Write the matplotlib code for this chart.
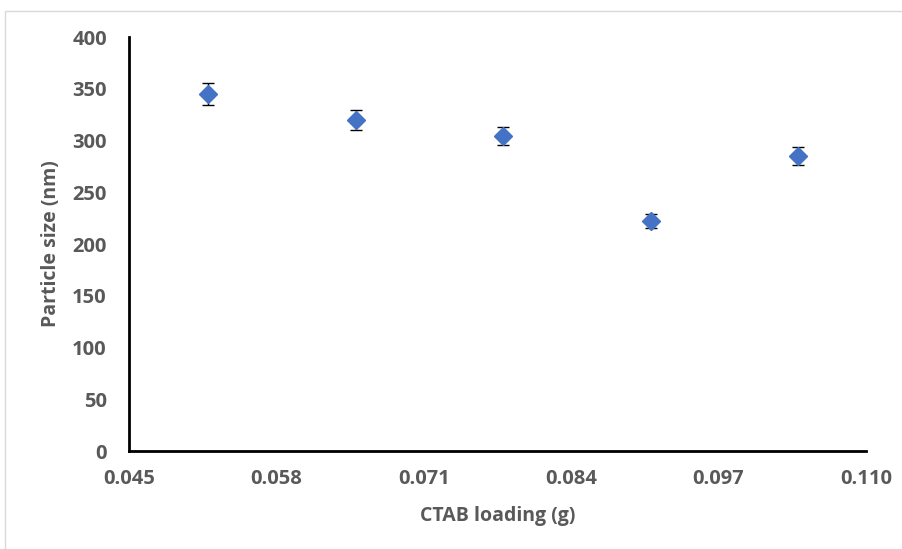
import matplotlib.pyplot as plt
from matplotlib.patches import Rectangle

# Données
ctab = [0.052, 0.065, 0.078, 0.091, 0.104]
taille = [345, 320, 304, 222, 285]
erreur = [10.5, 9.5, 8.7, 6.8, 8.7]
x_ticks = [0.045, 0.058, 0.071, 0.084, 0.097, 0.110]
y_ticks = [0, 50, 100, 150, 200, 250, 300, 350, 400]

gris = '#595959'
plt.rcParams['font.family'] = ['Open Sans', 'DejaVu Sans']

fig = plt.figure(figsize=(9.03, 5.49), dpi=100)
ax = fig.add_axes([0.1429, 0.1785, 0.816, 0.754])

# Cadre gris autour du graphe
fig.patches.append(Rectangle((5 / 903, -0.01), 1.0, 1 - 11 / 549 + 0.01,
                             transform=fig.transFigure, fill=False,
                             edgecolor='#d9d9d9', linewidth=1))

ax.errorbar(ctab, taille, yerr=erreur, fmt='D', color='#4472C4',
            markersize=9, ecolor='black', elinewidth=1, capsize=4,
            capthick=1, zorder=3)

ax.set_xlim(0.045, 0.110)
ax.set_ylim(0, 400)
ax.set_xticks(x_ticks)
ax.set_xticklabels(['%.3f' % v for v in x_ticks])
ax.set_yticks(y_ticks)

for s in ['top', 'right']:
    ax.spines[s].set_visible(False)
for s in ['left', 'bottom']:
    ax.spines[s].set_linewidth(2)
    ax.spines[s].set_color('black')

ax.tick_params(length=0, labelsize=14.5, labelcolor=gris)
ax.tick_params(axis='y', pad=16)
ax.tick_params(axis='x', pad=13)
for lab in ax.get_xticklabels() + ax.get_yticklabels():
    lab.set_fontweight('bold')

ax.set_xlabel('CTAB loading (g)', fontsize=14, color=gris,
              fontweight='bold', labelpad=12)
ax.set_ylabel('Particle size (nm)', fontsize=14, color=gris,
              fontweight='bold', labelpad=8)

fig.savefig('out.png', dpi=100)
